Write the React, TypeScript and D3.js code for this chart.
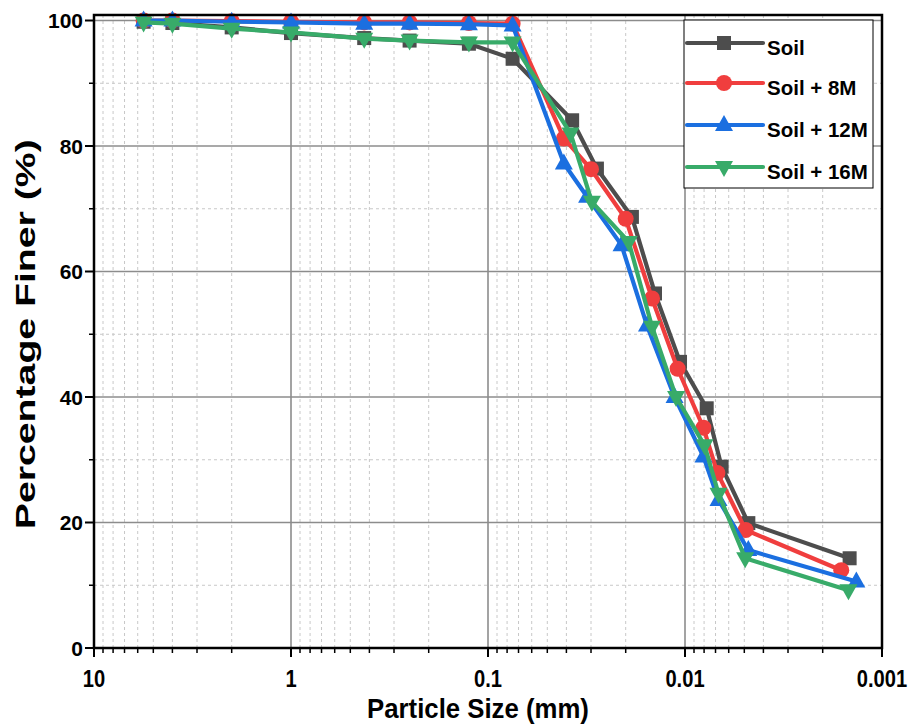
import React from "react";
import * as d3 from "d3";

const sieveSizes = [5.6, 4, 2, 1, 0.425, 0.25, 0.125, 0.075];

const soilSize = [...sieveSizes, 0.0374, 0.028, 0.0186, 0.0142, 0.0106, 0.00776, 0.00652, 0.00477, 0.00146];
const soilFiner = [99.8, 99.6, 98.9, 98.0, 97.2, 96.8, 96.3, 93.9, 84.1, 76.4, 68.7, 56.5, 45.6, 38.2, 28.9, 19.9, 14.3];

const m8Size = [...sieveSizes, 0.0412, 0.03, 0.02, 0.0147, 0.0109, 0.00806, 0.00685, 0.00492, 0.00161];
const m8Finer = [100, 100, 99.9, 99.8, 99.7, 99.7, 99.6, 99.5, 81.2, 76.3, 68.4, 55.7, 44.5, 35.1, 27.9, 18.8, 12.4];

const m12Size = [...sieveSizes, 0.0412, 0.0314, 0.021, 0.0156, 0.0113, 0.00806, 0.00676, 0.00477, 0.00135];
const m12Finer = [100, 100, 99.8, 99.7, 99.5, 99.5, 99.4, 99.2, 77.2, 71.9, 64.2, 51.4, 40.0, 30.5, 23.6, 15.6, 10.6];

const m16Size = [...sieveSizes, 0.0381, 0.0297, 0.0193, 0.0147, 0.0111, 0.00796, 0.00676, 0.00495, 0.00148];
const m16Finer = [99.7, 99.5, 98.7, 98.1, 97.1, 96.8, 96.5, 96.5, 82.0, 71.1, 64.7, 51.2, 40.0, 32.3, 24.6, 14.3, 9.2];

const seriesNames = ["Soil", "Soil + 8M", "Soil + 12M", "Soil + 16M"];
const seriesColors = ["#4d4d4d", "#f03e3e", "#1b6fe0", "#38ab69"];
const seriesMarkers = ["square", "circle", "triangle", "triangleDown"];

const xTickValues = [10, 1, 0.1, 0.01, 0.001];
const xTickLabels = ["10", "1", "0.1", "0.01", "0.001"];
const yTickValues = [0, 20, 40, 60, 80, 100];
const yMinorValues = [10, 30, 50, 70, 90];

const W = 916;
const H = 725;
const left = 94;
const right = 882;
const bottom = 648;
const top = 15;

function Marker({ kind, x, y, color }: { kind: string; x: number; y: number; color: string }) {
  if (kind === "square") return <rect x={x - 7} y={y - 7} width={14} height={14} fill={color} />;
  if (kind === "circle") return <circle cx={x} cy={y} r={8} fill={color} />;
  if (kind === "triangle")
    return <path d={`M${x},${y - 10}L${x + 9},${y + 6}L${x - 9},${y + 6}Z`} fill={color} />;
  return <path d={`M${x},${y + 10}L${x + 9},${y - 6}L${x - 9},${y - 6}Z`} fill={color} />;
}

export default function App() {
  const x = d3.scaleLog().domain([10, 0.001]).range([left, right]);
  const y = d3.scaleLinear().domain([0, 100]).range([bottom, 20.5]);

  const sizes = [soilSize, m8Size, m12Size, m16Size];
  const finer = [soilFiner, m8Finer, m12Finer, m16Finer];

  const minorX: number[] = [];
  [1, 0.1, 0.01, 0.001].forEach((dec) => {
    for (let k = 2; k <= 9; k++) minorX.push(dec * k);
  });

  const line = d3
    .line<[number, number]>()
    .x((d) => x(d[0]))
    .y((d) => y(d[1]));

  const legendRows = [43, 83, 125, 167];
  const font = "'Liberation Sans', Arial, sans-serif";

  return (
    <svg width={W} height={H} style={{ position: "absolute", left: 0, top: 0, background: "#fff" }}>
      {/* minor grid */}
      {minorX.map((v, i) => (
        <line key={"mx" + i} x1={x(v)} x2={x(v)} y1={top} y2={bottom} stroke="#c8c8c8" strokeWidth={1} strokeDasharray="3,3" />
      ))}
      {yMinorValues.map((v, i) => (
        <line key={"my" + i} x1={left} x2={right} y1={y(v)} y2={y(v)} stroke="#c8c8c8" strokeWidth={1} strokeDasharray="3,3" />
      ))}
      {/* major grid */}
      {xTickValues.slice(1, -1).map((v, i) => (
        <line key={"gx" + i} x1={x(v)} x2={x(v)} y1={top} y2={bottom} stroke="#8c8c8c" strokeWidth={1.6} />
      ))}
      {yTickValues.slice(1).map((v, i) => (
        <line key={"gy" + i} x1={left} x2={right} y1={y(v)} y2={y(v)} stroke="#8c8c8c" strokeWidth={1.6} />
      ))}

      {/* series */}
      {sizes.map((s, si) => {
        const pts = s.map((d, i) => [d, finer[si][i]] as [number, number]);
        return (
          <g key={"s" + si}>
            <path d={line(pts) || ""} fill="none" stroke={seriesColors[si]} strokeWidth={4.2} strokeLinejoin="round" />
            {pts.map((p, i) => (
              <Marker key={i} kind={seriesMarkers[si]} x={x(p[0])} y={y(p[1])} color={seriesColors[si]} />
            ))}
          </g>
        );
      })}

      {/* frame */}
      <rect x={left} y={top} width={right - left} height={bottom - top} fill="none" stroke="#000" strokeWidth={2.5} />

      {/* x ticks */}
      {xTickValues.map((v, i) => (
        <line key={"xt" + i} x1={x(v)} x2={x(v)} y1={bottom} y2={bottom + 9} stroke="#000" strokeWidth={2} />
      ))}
      {minorX.map((v, i) => (
        <line key={"xm" + i} x1={x(v)} x2={x(v)} y1={bottom} y2={bottom + 5} stroke="#000" strokeWidth={1.5} />
      ))}
      {xTickValues.map((v, i) => (
        <text
          key={"xl" + i}
          transform={`translate(${x(v)},687) scale(0.84,1)`}
          textAnchor="middle"
          fontFamily={font}
          fontWeight="bold"
          fontSize={24}
        >
          {xTickLabels[i]}
        </text>
      ))}
      {/* y ticks */}
      {yTickValues.map((v, i) => (
        <line key={"yt" + i} x1={left - 9} x2={left} y1={y(v)} y2={y(v)} stroke="#000" strokeWidth={2} />
      ))}
      {yMinorValues.map((v, i) => (
        <line key={"ym" + i} x1={left - 5} x2={left} y1={y(v)} y2={y(v)} stroke="#000" strokeWidth={1.5} />
      ))}
      {yTickValues.map((v, i) => (
        <text key={"yl" + i} x={83} y={y(v) + 7.5} textAnchor="end" fontFamily={font} fontWeight="bold" fontSize={21}>
          {v}
        </text>
      ))}

      {/* axis titles */}
      <text
        transform="translate(478,718) scale(0.92,1)"
        textAnchor="middle"
        fontFamily={font}
        fontWeight="bold"
        fontSize={28}
      >
        Particle Size (mm)
      </text>
      <text
        transform={`translate(35,${y(50)}) rotate(-90)`}
        textAnchor="middle"
        fontFamily={font}
        fontWeight="bold"
        fontSize={27}
        textLength={390}
        lengthAdjust="spacingAndGlyphs"
      >
        Percentage Finer (%)
      </text>

      {/* legend */}
      <rect x={684} y={20} width={189} height={168} fill="#fff" stroke="#000" strokeWidth={1} />
      {seriesNames.map((n, i) => (
        <g key={"lg" + i}>
          <line x1={687} x2={763} y1={legendRows[i]} y2={legendRows[i]} stroke={seriesColors[i]} strokeWidth={4.2} strokeLinecap="round" />
          <Marker kind={seriesMarkers[i]} x={724} y={legendRows[i]} color={seriesColors[i]} />
          <text x={767} y={legendRows[i] + 12} fontFamily={font} fontWeight="bold" fontSize={20.5}>
            {n}
          </text>
        </g>
      ))}
    </svg>
  );
}
